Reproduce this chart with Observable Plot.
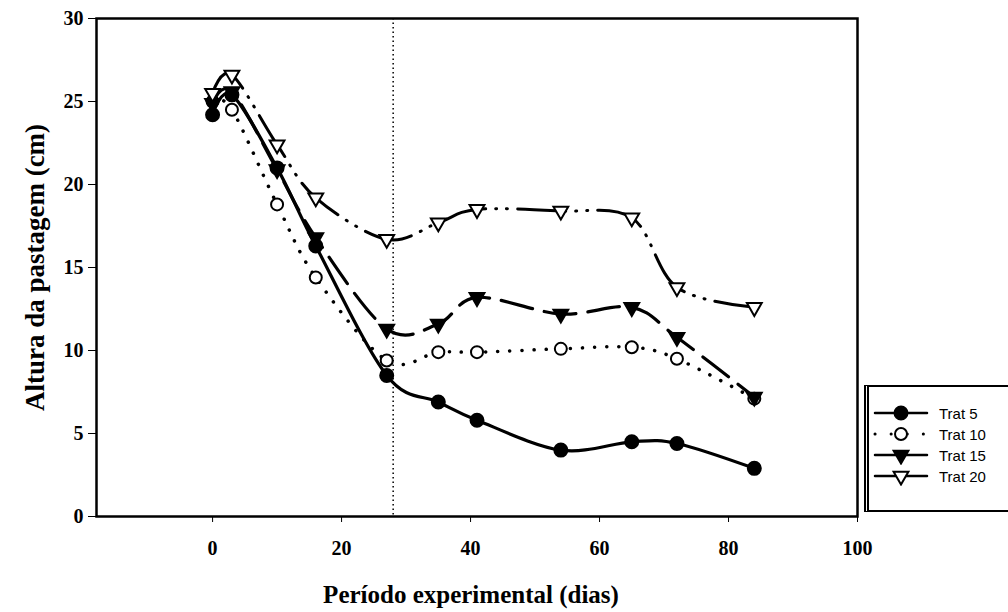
<!DOCTYPE html>
<html><head><meta charset="utf-8">
<script src="https://cdn.jsdelivr.net/npm/d3@7"></script>
<script src="https://cdn.jsdelivr.net/npm/@observablehq/plot@0.6"></script>
<style>
body{margin:0;background:#fff;}
#wrap{position:relative;width:1008px;height:612px;overflow:hidden;background:#fff;}
#legend{position:absolute;left:864px;top:385px;width:170px;height:123px;border:2px solid #000;border-left:5px double #000;background:#fff;font-family:"Liberation Sans",Arial,sans-serif;font-size:15px;}
#legend .row{position:absolute;left:0;height:20px;display:flex;align-items:center;}
#legend svg{display:block;}
</style></head><body><div id="wrap"><div id="legend"></div></div>
<script>
// ---- data ----
const days = [0, 3, 10, 16, 27, 35, 41, 54, 65, 72, 84];
const trat5  = [24.2, 25.4, 21.0, 16.3, 8.5, 6.9, 5.8, 4.0, 4.5, 4.4, 2.9];
const trat10 = [25.0, 24.5, 18.8, 14.4, 9.4, 9.9, 9.9, 10.1, 10.2, 9.5, 7.1];
const trat15 = [24.9, 25.6, 20.9, 16.8, 11.3, 11.6, 13.2, 12.2, 12.6, 10.8, 7.2];
const trat20 = [25.5, 26.6, 22.4, 19.2, 16.7, 17.7, 18.5, 18.4, 18.0, 13.8, 12.6];
const seriesNames = ["Trat 5", "Trat 10", "Trat 15", "Trat 20"];
const xTicks = [0, 20, 40, 60, 80, 100];
const yTicks = [0, 5, 10, 15, 20, 25, 30];
const markerDay = 28;
const xTitle = "Período experimental (dias)";
const yTitle = "Altura da pastagem (cm)";

// ---- styles ----
const styles = {
  "Trat 5":  {dash: null, symbol: "circle", fill: "black", r: 6.5, rotate: 0, width: 3.2},
  "Trat 10": {dash: "0.1,12", symbol: "circle", fill: "white", r: 6, rotate: 0, width: 3.5},
  "Trat 15": {dash: "32,12", symbol: "triangle", fill: "black", r: 5.5, rotate: 180, width: 3.2},
  "Trat 20": {dash: "48,10,1,10,1,10", symbol: "triangle", fill: "white", r: 5.5, rotate: 180, width: 3}
};
const valuesBy = {"Trat 5": trat5, "Trat 10": trat10, "Trat 15": trat15, "Trat 20": trat20};
const tables = seriesNames.map(name => days.map((d, i) => ({day: d, value: valuesBy[name][i], name})));

const serif = "'Liberation Serif', 'Times New Roman', serif";
const marks = [];
marks.push(Plot.ruleX([markerDay], {stroke: "black", strokeWidth: 1.5, strokeDasharray: "1.5,3"}));
tables.forEach(t => {
  const s = styles[t[0].name];
  marks.push(Plot.line(t, {x: "day", y: "value", curve: "cardinal", tension: 0, stroke: "black",
    strokeWidth: s.width, strokeDasharray: s.dash, strokeLinecap: "round"}));
});
tables.forEach(t => {
  const s = styles[t[0].name];
  marks.push(Plot.dot(t, {x: "day", y: "value", symbol: s.symbol, r: s.r, rotate: s.rotate,
    fill: s.fill, stroke: "black", strokeWidth: 2}));
});
marks.push(Plot.frame({stroke: "black", strokeWidth: 2.5}));
marks.push(Plot.axisX(xTicks, {tickSize: 6, tickPadding: 18, fontSize: 20, fontWeight: "bold", fontFamily: serif, label: null}));
marks.push(Plot.axisY(yTicks, {tickSize: 8, tickPadding: 5, fontSize: 20, fontWeight: "bold", fontFamily: serif, label: null}));
marks.push(Plot.text([xTitle], {frameAnchor: "bottom", dy: 78, dx: -6, fontSize: 25, fontWeight: "bold", fontFamily: serif, lineAnchor: "middle", textAnchor: "middle"}));
marks.push(Plot.text([yTitle], {frameAnchor: "left", dx: -61, rotate: -90, fontSize: 27, fontWeight: "bold", fontFamily: serif, lineAnchor: "middle", textAnchor: "middle"}));

const chart = Plot.plot({
  width: 1008, height: 612,
  marginLeft: 96, marginRight: 151, marginTop: 18, marginBottom: 96,
  x: {domain: [-18, 100]},
  y: {domain: [0, 30]},
  style: {background: "white", color: "black", fontFamily: serif},
  marks
});
const wrap = document.getElementById("wrap");
wrap.insertBefore(chart, wrap.firstChild);

// ---- legend ----
const legend = document.getElementById("legend");
seriesNames.forEach((name, i) => {
  const s = styles[name];
  const row = document.createElement("div");
  row.className = "row";
  row.style.top = (16 + i * 21) + "px";
  const sw = d3.create("svg").attr("width", 64).attr("height", 20);
  sw.append("line").attr("x1", 6).attr("x2", 58).attr("y1", 10).attr("y2", 10)
    .attr("stroke", "black").attr("stroke-width", s.dash === "0.1,12" ? 3 : 2.5)
    .attr("stroke-linecap", "round")
    .attr("stroke-dasharray", s.dash === "0.1,12" ? "0.1,16" : null);
  const sym = s.symbol === "circle" ? d3.symbolCircle : d3.symbolTriangle;
  sw.append("path").attr("d", d3.symbol(sym, Math.PI * s.r * s.r)())
    .attr("transform", `translate(32,10) rotate(${s.rotate})`)
    .attr("fill", s.fill).attr("stroke", "black").attr("stroke-width", 2);
  row.appendChild(sw.node());
  const lab = document.createElement("span");
  lab.textContent = name;
  lab.style.marginLeft = "6px";
  row.appendChild(lab);
  legend.appendChild(row);
});
</script></body></html>
